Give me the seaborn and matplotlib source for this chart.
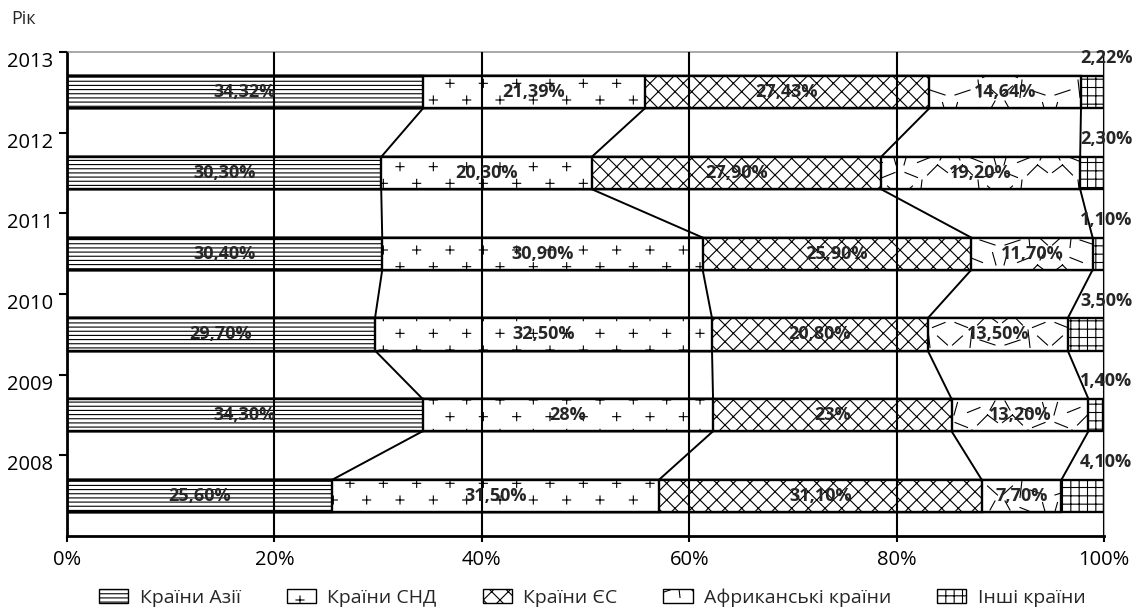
import matplotlib
matplotlib.use("Agg")
import matplotlib.hatch as mhatch
import matplotlib.pyplot as plt
import numpy as np
import pandas as pd
import seaborn as sns
from matplotlib.patches import Patch
from matplotlib.path import Path

years = ["2013", "2012", "2011", "2010", "2009", "2008"]
regions = ["Країни Азії", "Країни СНД", "Країни ЄС", "Африканські країни", "Інші країни"]
asia = [34.32, 30.3, 30.4, 29.7, 34.3, 25.6]
cis = [21.39, 20.3, 30.9, 32.5, 28, 31.5]
eu = [27.43, 27.9, 25.9, 20.8, 23, 31.1]
africa = [14.64, 19.2, 11.7, 13.5, 13.2, 7.7]
other = [2.22, 2.3, 1.1, 3.5, 1.4, 4.1]
hatches = ["----", "*", "xx", "O", "++"]


class PlusHatch(mhatch.HatchPatternBase):
    # sparse "+" signs, every other row shifted (takes the place of "*")
    def __init__(self, hatch, density):
        self.cols, self.rows, self.s = 3, 6, 0.04
        self.num_vertices = 4 * (self.cols + 1) * (self.rows + 1) if "*" in hatch else 0

    def set_vertices_and_codes(self, vertices, codes):
        pts = []
        for r in range(self.rows + 1):
            shift = 0.5 / self.cols if r % 2 else 0.0
            for c in range(self.cols + 1):
                x, y, s = c / self.cols + shift, r / self.rows, self.s
                pts += [(x - s, y), (x + s, y), (x, y - s), (x, y + s)]
        vertices[:] = pts
        codes[:] = [Path.MOVETO, Path.LINETO] * (len(pts) // 2)


class ScratchHatch(mhatch.HatchPatternBase):
    # short strokes at odd angles, 2x2 tiles per unit (takes the place of "O")
    segs = [((0.05, 0.10), (0.25, 0.28)), ((0.40, 0.05), (0.44, 0.40)), ((0.60, 0.20), (0.90, 0.10)),
            ((0.10, 0.55), (0.35, 0.45)), ((0.55, 0.50), (0.75, 0.70)), ((0.75, 0.70), (0.95, 0.55)),
            ((0.08, 0.70), (0.15, 0.95)), ((0.35, 0.75), (0.60, 0.85)), ((0.80, 0.80), (0.90, 0.98))]

    def __init__(self, hatch, density):
        self.num_vertices = 8 * len(self.segs) if "O" in hatch else 0

    def set_vertices_and_codes(self, vertices, codes):
        pts = []
        for ox, oy in [(0, 0), (0.5, 0), (0, 0.5), (0.5, 0.5)]:
            for (x0, y0), (x1, y1) in self.segs:
                if ox != oy:
                    x0, x1 = 1 - x0, 1 - x1
                pts += [(ox + x0 / 2, oy + y0 / 2), (ox + x1 / 2, oy + y1 / 2)]
        vertices[:] = pts
        codes[:] = [Path.MOVETO, Path.LINETO] * (len(pts) // 2)


mhatch._hatch_types = [PlusHatch if t is mhatch.Stars else ScratchHatch if t is mhatch.LargeCircles else t
                       for t in mhatch._hatch_types]

sns.set_style("white")
plt.rcParams["font.family"] = ["Open Sans", "DejaVu Sans"]
plt.rcParams["hatch.linewidth"] = 0.8

series = [asia, cis, eu, africa, other]
df = pd.DataFrame(dict(zip(regions, series)), index=years)
cum = df.cumsum(axis=1)


def fmt(v):
    return f"{v}%" if isinstance(v, int) else f"{v:.2f}%".replace(".", ",")


fig = plt.figure(figsize=(11.45, 6.12), dpi=100)
ax = fig.add_axes([0.0585, 0.124, 0.9057, 0.791])

# stack by overdrawing cumulative totals, largest first
for k in range(len(regions) - 1, -1, -1):
    sns.barplot(x=cum[regions[k]].values, y=years, order=years, orient="h", width=0.4,
                color="white", saturation=1, edgecolor="black", linewidth=1.7,
                hatch=hatches[k], errorbar=None, ax=ax)

h = 0.2
for i in range(len(years) - 1):
    for k in range(len(regions) - 1):
        ax.plot([cum.iloc[i + 1, k], cum.iloc[i, k]], [i + 1 - h, i + h], color="black", lw=1.4, zorder=3)

for i, yr in enumerate(years):
    left = 0
    for k, name in enumerate(regions):
        v = df.loc[yr, name]
        if k < len(regions) - 1:
            ax.text(left + v / 2, i, fmt(series[k][i]), ha="center", va="center",
                    fontsize=13, fontweight="bold", zorder=4)
        else:
            ax.text(100.2, i - 0.42, fmt(series[k][i]), ha="center", va="center",
                    fontsize=13, fontweight="bold", zorder=4)
        left += v

ax.set_xlim(0, 100)
ax.set_ylim(len(years) - 0.5, -0.5)
ax.set_xticks(np.arange(0, 101, 20), [f"{t}%" for t in range(0, 101, 20)])
ax.set_yticks(np.arange(len(years)) - 0.5, years, va="top")
ax.tick_params(axis="both", labelsize=14.5, colors="black")
ax.tick_params(axis="y", length=6, width=1.5, left=True, pad=4)
ax.tick_params(axis="x", length=4, width=1.5, bottom=True, pad=6)
ax.set_xlabel("")
ax.set_ylabel("")
ax.grid(axis="x", color="black", lw=1.5)
ax.set_axisbelow(False)
for side in ["top", "right"]:
    ax.spines[side].set_color("#999999")
    ax.spines[side].set_linewidth(1.2)
for side in ["left", "bottom"]:
    ax.spines[side].set_color("black")
    ax.spines[side].set_linewidth(2)

fig.text(0.01, 0.96, "Рік", fontsize=13)

handles = [Patch(facecolor="white", edgecolor="black", hatch=hatches[k], label=regions[k]) for k in range(len(regions))]
fig.legend(handles=handles, loc="lower center", ncol=5, frameon=False, fontsize=14,
           bbox_to_anchor=(0.5175, -0.02), columnspacing=2.35, handlelength=1.5, handleheight=0.8, handletextpad=0.6)

fig.savefig("out.png", dpi=100)
